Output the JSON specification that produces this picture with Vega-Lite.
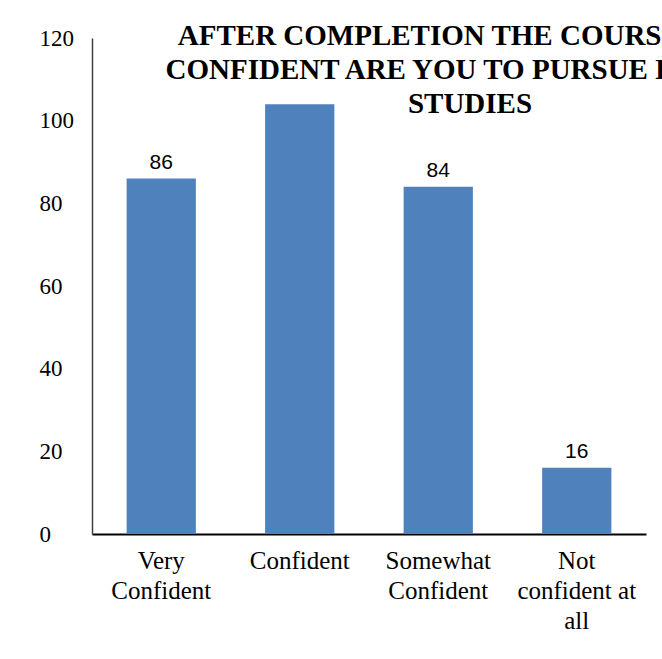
{
  "$schema": "https://vega.github.io/schema/vega-lite/v6.json",
  "autosize": {"type": "none"},
  "padding": {"left": 92, "top": 38, "right": 16, "bottom": 125},
  "width": 554,
  "height": 496,
  "background": "white",
  "title": {
    "text": ["AFTER COMPLETION THE COURSE HOW", "CONFIDENT  ARE YOU TO PURSUE HIGHER", "STUDIES"],
    "anchor": "middle",
    "frame": "group",
    "baseline": "top",
    "dx": 101,
    "offset": -92,
    "font": "'Liberation Serif', 'Times New Roman', serif",
    "fontSize": 29,
    "fontWeight": "bold",
    "lineHeight": 34,
    "color": "#000000"
  },
  "data": {
    "values": [
      {"category": "Very Confident", "count": 86, "label": "86"},
      {"category": "Confident", "count": 104, "label": null},
      {"category": "Somewhat Confident", "count": 84, "label": "84"},
      {"category": "Not confident at all", "count": 16, "label": "16"}
    ]
  },
  "encoding": {
    "x": {
      "field": "category",
      "type": "nominal",
      "sort": null,
      "scale": {"paddingInner": 0.5, "paddingOuter": 0.25},
      "axis": {
        "title": null,
        "labelAngle": 0,
        "labelFont": "'Liberation Serif', 'Times New Roman', serif",
        "labelFontSize": 25,
        "labelColor": "#000000",
        "labelLineHeight": 30,
        "labelBaseline": "top",
        "labelPadding": 14,
        "ticks": false,
        "tickSize": 0,
        "domainColor": "#000000",
        "domainWidth": 2,
        "labelExpr": "datum.value == 'Very Confident' ? ['Very', 'Confident'] : datum.value == 'Somewhat Confident' ? ['Somewhat', 'Confident'] : datum.value == 'Not confident at all' ? ['Not', 'confident at', 'all'] : datum.value"
      }
    },
    "y": {
      "field": "count",
      "type": "quantitative",
      "scale": {"domain": [0, 120], "nice": false},
      "axis": {
        "title": null,
        "values": [0, 20, 40, 60, 80, 100, 120],
        "grid": false,
        "ticks": false,
        "tickSize": 0,
        "labelAlign": "left",
        "labelPadding": 53,
        "labelFont": "'Liberation Serif', 'Times New Roman', serif",
        "labelFontSize": 23,
        "labelColor": "#000000",
        "domainColor": "#404040",
        "domainWidth": 1.5
      }
    }
  },
  "layer": [
    {"mark": {"type": "bar", "color": "#4F81BD"}},
    {
      "transform": [{"filter": "datum.label != null"}],
      "mark": {"type": "text", "baseline": "bottom", "dy": -6, "font": "Liberation Sans", "fontSize": 21, "color": "#000000"},
      "encoding": {"text": {"field": "label"}}
    }
  ],
  "config": {"view": {"stroke": null}}
}
